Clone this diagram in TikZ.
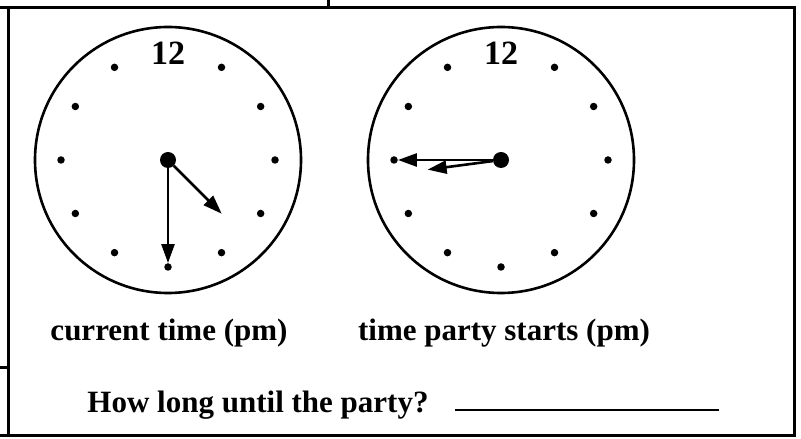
\documentclass[tikz,border=0pt]{standalone}
\usepackage{fontspec}
\setmainfont{Liberation Serif}
\usetikzlibrary{arrows.meta,calc}
\tikzstyle{face} = [circle, draw, line width=2.6pt, minimum size=266pt, inner sep=0pt]
\tikzstyle{tick} = [circle, fill, minimum size=7.5pt, inner sep=0pt]
\tikzstyle{hub} = [circle, fill, minimum size=16pt, inner sep=0pt]
\tikzstyle{hand} = [draw, line width=2.6pt, -{Triangle[length=19pt,width=13pt]}]
\tikzstyle{txt} = [font=\fontsize{31}{36}\selectfont\bfseries, inner sep=0pt]
\tikzstyle{frame} = [draw, line width=3pt]
\begin{document}
\begin{tikzpicture}[x=1pt,y=1pt]
    \useasboundingbox (0,0) rectangle (801,439);
    % Frame
    \draw[frame] (0,431) -- (794,431) -- (794,3) -- (0,3);
    \draw[frame] (8,431) -- (8,3);
    \draw[frame] (328,439) -- (328,431);
    \draw[frame] (0,71) -- (8,71);

    % Clock faces
    \foreach \c/\x in {1/168,2/501} {
        \node[face] (f\c) at (\x,279) {};
        \node[hub] (c\c) at (\x,279) {};
        \node[txt, font=\fontsize{34}{38}\selectfont\bfseries] (n\c) at (\x,386) {12};
        \foreach \h in {1,...,11}
            \path (\x,279) ++(90-30*\h:107) node[tick] (d\c-\h) {};
    }
    \coordinate (h1) at ($(c1)+(-45:76)$);
    \coordinate (h2) at ($(c2)+(187.5:74)$);

    % Hands
    \path[hand] (c1) -- (d1-6);
    \path[hand] (c1) -- (h1);
    \path[hand] (c2) -- (d2-9);
    \path[hand] (c2) -- (h2);

    % Texts
    \node[txt] (cur) at (169,106) {current time (pm)};
    \node[txt] (par) at (504,106) {time party starts (pm)};
    \node[txt] (ask) at (258,34) {How long until the party?};
    \draw[line width=2.6pt] (455,29) -- (719,29);
\end{tikzpicture}
\end{document}
